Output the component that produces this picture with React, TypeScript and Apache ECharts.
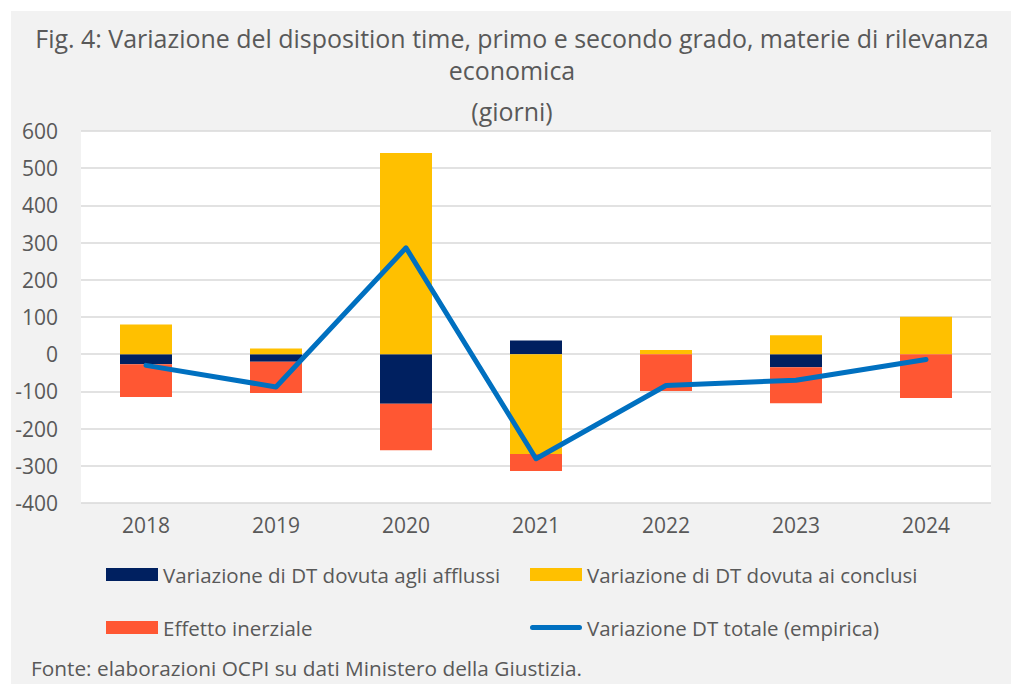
import React, { useEffect, useRef } from "react";
import * as echarts from "echarts";

const years = ["2018", "2019", "2020", "2021", "2022", "2023", "2024"];
const afflussi = [-27, -20, -133, 37, 0, -35, 0];
const conclusi = [80, 15, 541, -268, 11, 51, 101];
const inerziale = [-88, -84, -125, -46, -99, -97, -118];
const totale = [-30, -88, 286, -281, -84, -70, -14];

const yMin = -400;
const yMax = 600;
const yStep = 100;

const titleLine1 = "Fig. 4: Variazione del disposition time, primo e secondo grado, materie di rilevanza";
const titleLine2 = "economica";
const subTitle = "(giorni)";
const source = "Fonte: elaborazioni OCPI su dati Ministero della Giustizia.";

const nameAfflussi = "Variazione di DT dovuta agli afflussi";
const nameConclusi = "Variazione di DT dovuta ai conclusi";
const nameInerziale = "Effetto inerziale";
const nameTotale = "Variazione DT totale (empirica)";

const FONT = "'Open Sans', 'Noto Sans', sans-serif";
const GREY = "#595959";
const LINE_ICON =
  "path://M0,0 L0,0 Z M2.5,4 L49.5,4 A2.5,2.5 0 0 1 49.5,9 L2.5,9 A2.5,2.5 0 0 1 2.5,4 Z M52,13 L52,13 Z";

export default function App() {
  const ref = useRef<HTMLDivElement>(null);
  useEffect(() => {
    if (!ref.current) return;
    const chart = echarts.init(ref.current, null, { renderer: "svg" });
    const legendText = { color: GREY, fontFamily: FONT, fontSize: 20.5, lineHeight: 20 };
    chart.setOption({
      animation: false,
      backgroundColor: "#f2f2f2",
      textStyle: { fontFamily: FONT },
      graphic: [
        {
          type: "text",
          x: 501,
          y: 27,
          scaleX: 0.96,
          style: { text: titleLine1, fill: GREY, font: `26px ${FONT}`, textAlign: "center", textVerticalAlign: "middle" },
        },
        {
          type: "text",
          x: 501,
          y: 59,
          scaleX: 0.96,
          style: { text: titleLine2, fill: GREY, font: `26px ${FONT}`, textAlign: "center", textVerticalAlign: "middle" },
        },
        {
          type: "text",
          x: 501,
          y: 100,
          scaleX: 0.96,
          style: { text: subTitle, fill: GREY, font: `26px ${FONT}`, textAlign: "center", textVerticalAlign: "middle" },
        },
        {
          type: "text",
          x: 20,
          y: 657,
          style: { text: source, fill: GREY, font: `20.8px ${FONT}`, textAlign: "left", textVerticalAlign: "middle" },
        },
      ],
      grid: {
        left: 70,
        right: 20,
        top: 120,
        bottom: 181,
        show: true,
        backgroundColor: "#ffffff",
        borderWidth: 0,
        containLabel: false,
      },
      legend: [
        {
          orient: "vertical",
          left: 95,
          top: 553,
          padding: 0,
          itemWidth: 52,
          itemHeight: 13,
          itemGap: 32,
          textStyle: legendText,
          data: [
            { name: nameAfflussi, icon: "rect" },
            { name: nameInerziale, icon: "rect" },
          ],
        },
        {
          orient: "vertical",
          left: 519,
          top: 553,
          padding: 0,
          itemWidth: 52,
          itemHeight: 13,
          itemGap: 32,
          textStyle: legendText,
          data: [
            { name: nameConclusi, icon: "rect" },
            { name: nameTotale, icon: LINE_ICON, itemStyle: { color: "#0070C0" } },
          ],
        },
      ],
      xAxis: {
        type: "category",
        data: years,
        axisLine: { show: false },
        axisTick: { show: false },
        axisLabel: { color: GREY, fontSize: 21, fontFamily: FONT, margin: 11 },
      },
      yAxis: {
        type: "value",
        min: yMin,
        max: yMax,
        interval: yStep,
        axisLine: { show: false },
        axisTick: { show: false },
        axisLabel: { color: GREY, fontSize: 21, fontFamily: FONT, margin: 23 },
        splitLine: { lineStyle: { color: "#d9d9d9", width: 1.5 } },
      },
      series: [
        {
          name: nameAfflussi,
          type: "bar",
          stack: "dt",
          barWidth: 52,
          data: afflussi,
          itemStyle: { color: "#002060" },
        },
        {
          name: nameConclusi,
          type: "bar",
          stack: "dt",
          barWidth: 52,
          data: conclusi,
          itemStyle: { color: "#FFC000" },
        },
        {
          name: nameInerziale,
          type: "bar",
          stack: "dt",
          barWidth: 52,
          data: inerziale,
          itemStyle: { color: "#FF5733" },
        },
        {
          name: nameTotale,
          type: "line",
          data: totale,
          symbol: "none",
          z: 5,
          lineStyle: { color: "#0070C0", width: 5, cap: "round", join: "round" },
          itemStyle: { color: "#0070C0" },
        },
      ],
    });
    return () => chart.dispose();
  }, []);
  return (
    <div
      ref={ref}
      style={{ position: "absolute", left: 11, top: 11, width: 1000, height: 673 }}
    />
  );
}
